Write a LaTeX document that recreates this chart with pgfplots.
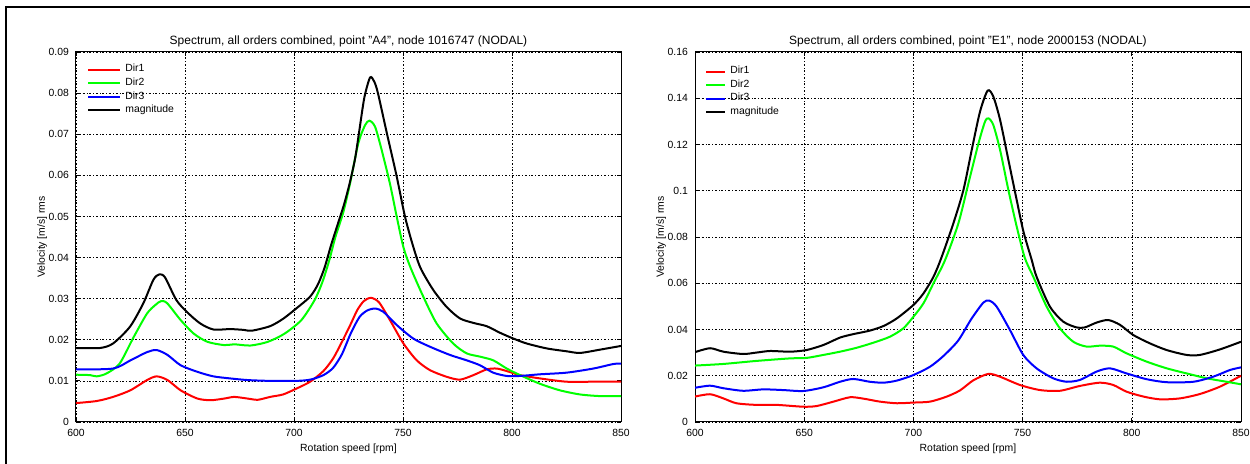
\documentclass[border=0pt]{standalone}
\usepackage{fontspec}
\setmainfont{Liberation Sans}
\usepackage{pgfplots}
\pgfplotsset{compat=1.18}

\newcommand\smallfont{\fontsize{5.2}{6}\selectfont}

\pgfplotsset{
  spec/.style={
    scale only axis, height=185pt, anchor=south west,
    xmin=600, xmax=850, xtick={600,650,...,850},
    ymin=0, scaled y ticks=false,
    grid=major,
    grid style={black, line width=0.3pt, dash pattern=on 1pt off 1pt on 0.3pt off 1pt},
    tick align=inside, major tick length=2pt,
    tick style={black, line width=0.4pt},
    axis line style={line width=0.5pt},
    ticklabel style={font=\smallfont},
    /pgf/number format/assume math mode=true,
    yticklabel style={/pgf/number format/fixed, /pgf/number format/precision=2},
    xlabel={Rotation speed [rpm]}, ylabel={Velocity [m/s] rms},
    label style={font=\smallfont},
    xlabel style={yshift=3pt},
    ylabel style={yshift=-6pt},
    title style={font=\fontsize{6}{7}\selectfont, yshift=-7pt},
    legend style={draw=none, fill=none, at={(0,1)}, anchor=north west,
      font=\smallfont, row sep=-2.5pt, inner sep=0pt},
    legend cell align=left,
    every axis plot/.append style={line width=1pt, smooth, tension=0.45},
  }
}

\begin{document}
\begin{tikzpicture}
\path[use as bounding box] (0,0) rectangle (625pt,232pt);
\draw[line width=0.8pt] (3pt,0) -- (3pt,228.5pt) -- (625pt,228.5pt);

% left panel
\begin{axis}[spec, at={(38pt,21pt)}, width=272.5pt,
  ymax=0.09, ytick={0,0.01,...,0.09},
  title={Spectrum, all orders combined, point "A4", node 1016747 (NODAL)},
  legend style={xshift=5.5pt, yshift=-4pt},
  legend image code/.code={\draw[#1] (0pt,0pt) -- (16pt,0pt);},
]
\addplot[red] coordinates {
(600,0.0046)(609.5,0.0051)(617,0.0061)(624.9,0.0077)(632.6,0.0102)(637,0.0111)
(642,0.0102)(648,0.0077)(655.7,0.0057)(661.8,0.0053)(668,0.0057)(672.6,0.0061)
(678.7,0.0057)(683.4,0.0054)(689,0.0061)(695,0.0067)(701,0.0081)(707.4,0.0098)
(713.5,0.0124)(718,0.0155)(722,0.0195)(726,0.0238)(729,0.0272)(732,0.0294)
(735.3,0.0302)(739,0.0291)(744,0.0248)(750.2,0.0191)(756.3,0.015)(762.4,0.0126)
(770,0.011)(776.1,0.0103)(782.3,0.0114)(788.4,0.0128)(793,0.013)(797.5,0.0124)
(803.7,0.0114)(812.8,0.0106)(825,0.0098)(837.3,0.0098)(850,0.0098)
};
\addlegendentry{Dir1}
\addplot[green] coordinates {
(600,0.0115)(606.5,0.0114)(609.5,0.0111)(614,0.0118)(620,0.0142)(626.5,0.0207)
(632.6,0.0264)(636.5,0.0285)(639,0.0294)(641.8,0.0289)(648,0.0248)(654,0.0215)
(660.3,0.0195)(668,0.0187)(672.6,0.0189)(680,0.0186)(688,0.0195)(695.7,0.0215)
(703.4,0.0248)(709.5,0.0297)(713,0.034)(716,0.039)(719,0.045)(722.6,0.051)
(725.7,0.058)(729.5,0.0678)(732.6,0.0722)(734.6,0.0733)(737.2,0.0718)(740.2,0.0662)
(744,0.058)(747.1,0.05)(750.2,0.0425)(753.5,0.0375)(759.3,0.0305)(765.4,0.024)
(773,0.0191)(779.2,0.0167)(785.3,0.0159)(791.4,0.015)(797.6,0.013)(803.7,0.0114)
(812.8,0.0093)(822,0.0077)(831.2,0.0067)(840.4,0.0063)(850,0.0063)
};
\addlegendentry{Dir2}
\addplot[blue] coordinates {
(600,0.0128)(617,0.013)(625,0.015)(632.6,0.017)(637,0.0175)(642,0.0163)(648,0.0138)
(655.7,0.0122)(663,0.0111)(670.7,0.0106)(678.7,0.0102)(689,0.010)(701,0.010)
(707.4,0.0103)(713.5,0.0114)(718,0.0132)(722,0.0165)(726,0.0215)(730,0.0255)
(733.5,0.0271)(737.2,0.0276)(741,0.0268)(747.1,0.0236)(754.7,0.0203)(762.4,0.0183)
(771.6,0.0163)(779.2,0.015)(785.3,0.0138)(791.4,0.012)(797.6,0.0112)(803.7,0.0112)
(812.8,0.0116)(825,0.012)(837.3,0.013)(846.5,0.0141)(850,0.0142)
};
\addlegendentry{Dir3}
\addplot[black] coordinates {
(600,0.018)(611,0.018)(617,0.0191)(624.8,0.0232)(630.9,0.0289)(635.5,0.0346)
(638.2,0.0359)(640.8,0.0352)(646,0.0297)(650.8,0.0268)(656.9,0.024)(663,0.0225)
(670.7,0.0226)(677,0.0224)(680.6,0.0222)(689,0.0233)(695,0.0251)(701,0.0276)
(707.4,0.0305)(711,0.0335)(714,0.0375)(717,0.043)(720,0.048)(723,0.053)(725.5,0.058)
(728,0.064)(730,0.071)(732.3,0.079)(734.9,0.0838)(736.8,0.0828)(738.5,0.080)
(742.7,0.070)(747,0.060)(750.9,0.050)(754.5,0.043)(758,0.0375)(763.9,0.0321)
(770,0.028)(776.1,0.0252)(782.3,0.0241)(788.4,0.0233)(794.5,0.0217)(800.6,0.0203)
(806.7,0.0191)(815.9,0.0179)(825,0.0172)(831.2,0.0168)(840.4,0.0176)(850,0.0185)
};
\addlegendentry{magnitude}
\end{axis}

% right panel
\begin{axis}[spec, at={(347.5pt,21pt)}, width=273pt,
  ymax=0.16, ytick={0,0.02,...,0.16},
  title={Spectrum, all orders combined, point "E1", node 2000153 (NODAL)},
  legend style={xshift=5pt, yshift=-5pt},
  legend image code/.code={\draw[#1] (0pt,0pt) -- (9.5pt,0pt);},
]
\addplot[red] coordinates {
(600,0.011)(606.9,0.012)(613,0.0102)(619,0.0081)(628,0.0074)(637.4,0.0074)
(649.6,0.0066)(655.7,0.0069)(663.4,0.0088)(671,0.0107)(677.1,0.0101)(684.7,0.0088)
(692.4,0.0081)(700,0.0084)(707.6,0.0088)(715.3,0.011)(721.4,0.0137)(727.4,0.0180)
(734.3,0.0208)(739.6,0.0196)(748.8,0.016)(758,0.0138)(767.1,0.0135)(776.3,0.0156)
(785.4,0.017)(791.5,0.016)(797.6,0.0131)(805.3,0.011)(812.9,0.0098)(822,0.0102)
(831.2,0.0121)(840.4,0.0153)(850,0.020)
};
\addlegendentry{Dir1}
\addplot[green] coordinates {
(600,0.0244)(613,0.0251)(628,0.0264)(643.5,0.0275)(651,0.0277)(658.8,0.029)
(666.4,0.0304)(674,0.0321)(681.7,0.0343)(689.3,0.0369)(695.4,0.0405)(700,0.0455)
(704.6,0.0513)(709.2,0.060)(714.5,0.070)(720.6,0.0859)(725.2,0.1032)(729.8,0.1205)
(732.8,0.1299)(734.4,0.1313)(736.6,0.1284)(739.7,0.1176)(743.5,0.1003)(747.3,0.0845)
(751,0.071)(754.9,0.0628)(761,0.0499)(767.1,0.0405)(773.2,0.0347)(779.3,0.0326)
(785.4,0.033)(791.5,0.0326)(797.6,0.0297)(806.8,0.0261)(816,0.0232)(825.1,0.021)
(834.3,0.0189)(843.4,0.0174)(850,0.0163)
};
\addlegendentry{Dir2}
\addplot[blue] coordinates {
(600,0.0148)(606.9,0.0157)(613,0.0146)(622,0.0135)(631.3,0.0141)(640.5,0.0138)
(649.6,0.0134)(658.8,0.015)(666.4,0.0174)(672.5,0.0186)(680,0.0174)(686.3,0.017)
(692.4,0.0179)(700,0.0203)(707.6,0.0239)(713.7,0.0285)(720.5,0.0352)(726.5,0.0445)
(732,0.0516)(734.7,0.0525)(738.1,0.0499)(744.2,0.0398)(750.3,0.029)(756.4,0.0232)
(764,0.0189)(770.2,0.0174)(776.3,0.0182)(783.9,0.0218)(790,0.0232)(797.6,0.021)
(806.8,0.0185)(816,0.0172)(828.2,0.0174)(837.3,0.0196)(845,0.0225)(850,0.0236)
};
\addlegendentry{Dir3}
\addplot[black] coordinates {
(600,0.0302)(606.9,0.0319)(613,0.0304)(622,0.0294)(628,0.030)(634.4,0.0307)
(643.5,0.0304)(651,0.0311)(658.8,0.0333)(666.4,0.0365)(672.5,0.038)(680,0.0395)
(686.3,0.0415)(692.4,0.0448)(700,0.0506)(704.6,0.0556)(709.2,0.0628)(712.8,0.071)
(718.3,0.0859)(722.9,0.1003)(726.7,0.1176)(730.5,0.1342)(734,0.1433)(736.6,0.1407)
(739.7,0.1306)(743.5,0.1133)(747.3,0.096)(750.4,0.0823)(754.2,0.070)(756.4,0.0628)
(762.5,0.0499)(768.6,0.0434)(774.7,0.0409)(778.5,0.0409)(783.9,0.043)(789.2,0.0441)
(794.6,0.042)(800.7,0.0376)(808.3,0.034)(816,0.0311)(825.1,0.029)(831.2,0.029)
(840.4,0.0314)(850,0.0347)
};
\addlegendentry{magnitude}
\end{axis}
\end{tikzpicture}
\end{document}
